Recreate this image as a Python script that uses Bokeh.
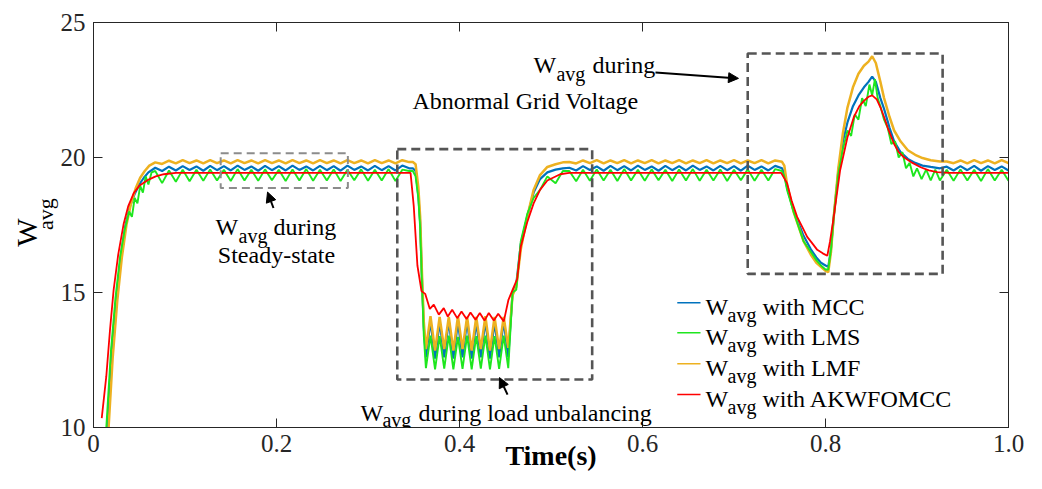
import numpy as np
from bokeh.plotting import figure
from bokeh.models import Range1d, LinearAxis, FixedTicker, Label, Arrow, NormalHead
from bokeh.embed import file_html
from bokeh.resources import INLINE

FONT = "Liberation Serif"

# ---------------- data ----------------
x_ticks = [0, 0.2, 0.4, 0.6, 0.8, 1.0]
x_tick_labels = ["0", "0.2", "0.4", "0.6", "0.8", "1.0"]
y_ticks = [10, 15, 20, 25]

# sampling times of the steady-state ripple segments
t_ss1 = list(np.round(0.0675 + 0.0075 * np.arange(38), 4))
t_ss2 = list(np.round(0.52 + 0.0075 * np.arange(32), 4))
t_ss3 = list(np.round(0.9325 + 0.0075 * np.arange(10), 4))
# sampling times of the load-unbalancing oscillation (troughs / peaks)
t_osc = list(np.round(0.3633 + 0.005 * np.arange(19), 4))

# initial rise
mcc_rise_t = [0.015, 0.02, 0.025, 0.03, 0.035, 0.04, 0.045, 0.05, 0.055, 0.06]
mcc_rise = [10.0, 12.9, 14.8, 16.4, 17.5, 18.2, 18.65, 19.0, 19.25, 19.45]
lmf_rise_t = [0.0165, 0.021, 0.026, 0.031, 0.036, 0.041, 0.046, 0.051, 0.056, 0.061]
lmf_rise = [10.0, 12.6, 14.7, 16.3, 17.5, 18.3, 18.85, 19.25, 19.5, 19.7]
lms_rise_t = [0.014, 0.019, 0.024, 0.029, 0.034, 0.039, 0.042, 0.045, 0.048, 0.051, 0.054, 0.057, 0.06, 0.0635]
lms_rise = [10.0, 12.8, 14.8, 16.3, 17.3, 18.0, 17.8, 18.5, 18.3, 18.95, 18.7, 19.3, 19.0, 19.45]
akw_rise_t = [0.009, 0.014, 0.018, 0.022, 0.027, 0.033, 0.038, 0.044, 0.05, 0.059, 0.068, 0.077, 0.09]
akw_rise = [10.35, 11.9, 13.6, 15.1, 16.4, 17.55, 18.2, 18.68, 18.95, 19.16, 19.3, 19.38, 19.43]

# steady state 1 (0.0675 - 0.345)
mcc_ss1 = [19.62, 19.50, 19.66, 19.52, 19.68, 19.54, 19.67, 19.51, 19.69, 19.53,
           19.68, 19.52, 19.70, 19.54, 19.67, 19.51, 19.69, 19.53, 19.68, 19.52,
           19.70, 19.54, 19.67, 19.52, 19.69, 19.53, 19.68, 19.51, 19.70, 19.54,
           19.67, 19.52, 19.69, 19.53, 19.68, 19.52, 19.70, 19.60]
lms_ss1 = [19.50, 19.05, 19.52, 19.10, 19.55, 19.12, 19.55, 19.14, 19.56, 19.15,
           19.55, 19.13, 19.57, 19.15, 19.55, 19.14, 19.56, 19.16, 19.55, 19.13,
           19.56, 19.15, 19.57, 19.14, 19.55, 19.15, 19.56, 19.13, 19.55, 19.16,
           19.56, 19.14, 19.55, 19.15, 19.57, 19.13, 19.55, 19.50]
lmf_ss1 = [19.82, 19.76, 19.88, 19.78, 19.90, 19.79, 19.89, 19.78, 19.90, 19.79,
           19.89, 19.78, 19.90, 19.79, 19.89, 19.78, 19.90, 19.79, 19.89, 19.78,
           19.90, 19.79, 19.89, 19.78, 19.90, 19.79, 19.89, 19.78, 19.90, 19.79,
           19.89, 19.78, 19.90, 19.79, 19.89, 19.78, 19.90, 19.83]

# load unbalancing
fall_t = [0.349, 0.352, 0.355, 0.357, 0.359, 0.361]
mcc_fall = [19.6, 19.5, 18.6, 17.6, 15.5, 13.7]
lmf_fall = [19.83, 19.75, 18.9, 17.8, 15.7, 13.9]
lms_fall = [19.5, 19.3, 18.5, 17.4, 15.3, 13.4]
mcc_osc = [12.6, 13.95, 12.55, 13.9, 12.6, 13.95, 12.55, 13.9, 12.6, 13.95,
           12.55, 13.9, 12.6, 13.95, 12.55, 13.9, 12.6, 13.95, 12.6]
lmf_osc = [12.9, 14.12, 12.85, 14.1, 12.9, 14.1, 12.85, 14.12, 12.9, 14.1,
           12.85, 14.1, 12.9, 14.12, 12.85, 14.1, 12.9, 14.1, 12.95]
lms_osc = [12.2, 13.4, 12.15, 13.38, 12.18, 13.4, 12.15, 13.36, 12.17, 13.4,
           12.15, 13.38, 12.18, 13.4, 12.15, 13.38, 12.17, 13.4, 12.2]
rec_t = [0.458, 0.462, 0.467, 0.474, 0.481, 0.488, 0.496, 0.505, 0.513]
mcc_rec = [15.0, 15.3, 16.8, 17.8, 18.7, 19.2, 19.45, 19.55, 19.6]
lmf_rec = [14.9, 15.2, 16.6, 17.8, 18.8, 19.35, 19.65, 19.75, 19.82]
lms_rec = [15.0, 15.1, 16.9, 17.9, 18.5, 18.8, 19.3, 19.05, 19.5]
akw_unb_t = [0.3465, 0.350, 0.354, 0.3585, 0.3625, 0.3676, 0.3719, 0.3774, 0.3828, 0.3872,
             0.392, 0.3975, 0.4022, 0.4077, 0.412, 0.4175, 0.4222, 0.4273, 0.432, 0.4375,
             0.4423, 0.4484, 0.4535, 0.458, 0.463, 0.467, 0.474, 0.481, 0.488, 0.496,
             0.51, 0.52]
akw_unb = [19.43, 18.2, 16.0, 15.05, 14.95, 14.39, 14.55, 14.18, 14.42, 14.11,
           14.36, 14.05, 14.3, 14.02, 14.26, 13.99, 14.24, 13.96, 14.24, 13.96,
           14.21, 13.93, 14.73, 15.1, 15.5, 16.7, 17.6, 18.3, 18.8, 19.15,
           19.38, 19.43]

# steady state 2 (0.52 - 0.7525)
mcc_ss2 = [19.62, 19.52, 19.68, 19.54, 19.67, 19.51, 19.69, 19.53, 19.68, 19.52,
           19.70, 19.54, 19.67, 19.51, 19.69, 19.53, 19.68, 19.52, 19.70, 19.54,
           19.67, 19.52, 19.69, 19.53, 19.68, 19.51, 19.70, 19.54, 19.67, 19.52,
           19.69, 19.60]
lms_ss2 = [19.50, 19.12, 19.55, 19.14, 19.56, 19.15, 19.55, 19.13, 19.57, 19.15,
           19.55, 19.14, 19.56, 19.16, 19.55, 19.13, 19.56, 19.15, 19.57, 19.14,
           19.55, 19.15, 19.56, 19.13, 19.55, 19.16, 19.56, 19.14, 19.55, 19.15,
           19.57, 19.50]
lmf_ss2 = [19.83, 19.78, 19.89, 19.79, 19.90, 19.78, 19.89, 19.79, 19.90, 19.78,
           19.89, 19.79, 19.90, 19.78, 19.89, 19.79, 19.90, 19.78, 19.89, 19.79,
           19.90, 19.78, 19.89, 19.79, 19.90, 19.78, 19.89, 19.79, 19.90, 19.78,
           19.89, 19.84]

# abnormal grid voltage
ab_t = [0.755, 0.758, 0.765, 0.776, 0.784, 0.79, 0.795, 0.8, 0.803, 0.806,
        0.809, 0.814, 0.819, 0.824, 0.83, 0.836, 0.842, 0.847, 0.851, 0.855,
        0.86, 0.864, 0.87, 0.875, 0.882, 0.89, 0.898, 0.906, 0.915, 0.925]
mcc_ab = [19.4, 18.9, 18.05, 17.1, 16.6, 16.3, 16.1, 16.0, 15.95, 16.6,
          17.8, 19.5, 20.6, 21.3, 21.9, 22.3, 22.6, 22.8, 23.0, 22.8,
          22.2, 21.8, 21.1, 20.6, 20.2, 19.95, 19.8, 19.7, 19.65, 19.6]
lmf_ab = [19.7, 19.0, 18.0, 16.9, 16.4, 16.1, 15.95, 15.8, 15.75, 16.5,
          17.8, 19.6, 20.9, 21.85, 22.6, 23.1, 23.4, 23.55, 23.75, 23.5,
          22.8, 22.2, 21.5, 21.0, 20.6, 20.27, 20.1, 19.98, 19.9, 19.85]
lms_ab_t = [0.755, 0.758, 0.765, 0.776, 0.784, 0.79, 0.795, 0.8, 0.803, 0.806,
            0.809, 0.814, 0.819, 0.824, 0.828, 0.832, 0.836, 0.84, 0.844, 0.848,
            0.851, 0.854, 0.857, 0.86, 0.864, 0.868, 0.872, 0.876, 0.88, 0.884,
            0.888, 0.892, 0.896, 0.9, 0.905, 0.91, 0.915, 0.92, 0.925]
lms_ab = [19.3, 18.8, 18.0, 16.9, 16.5, 16.2, 16.0, 15.85, 15.85, 16.6,
          17.8, 19.4, 20.3, 21.0, 20.8, 21.6, 21.4, 22.2, 21.9, 22.7,
          22.3, 22.9, 22.2, 21.9, 21.4, 21.1, 20.5, 20.6, 20.0, 20.2,
          19.6, 19.8, 19.3, 19.6, 19.2, 19.55, 19.15, 19.55, 19.15]
akw_ab_t = [0.7515, 0.758, 0.763, 0.769, 0.775, 0.78, 0.786, 0.791, 0.797, 0.802,
            0.805, 0.809, 0.816, 0.824, 0.831, 0.837, 0.842, 0.847, 0.851, 0.856,
            0.86, 0.864, 0.868, 0.875, 0.88, 0.886, 0.895, 0.904, 0.913, 0.922,
            0.935, 1.0]
akw_ab = [19.43, 19.05, 18.4, 17.8, 17.4, 17.06, 16.8, 16.58, 16.45, 16.36,
          16.9, 17.8, 19.53, 20.75, 21.5, 21.9, 22.1, 22.25, 22.3, 22.15,
          21.86, 21.5, 21.1, 20.5, 20.2, 20.0, 19.8, 19.64, 19.52, 19.46,
          19.43, 19.43]

# steady state 3 (0.9325 - 1.0)
mcc_ss3 = [19.66, 19.52, 19.68, 19.53, 19.69, 19.51, 19.68, 19.54, 19.67, 19.52]
lms_ss3 = [19.55, 19.14, 19.56, 19.15, 19.55, 19.13, 19.57, 19.15, 19.55, 19.14]
lmf_ss3 = [19.85, 19.79, 19.89, 19.78, 19.90, 19.79, 19.89, 19.78, 19.90, 19.79]

# dashed annotation boxes: left, right, bottom, top
box_left = [0.332, 0.715]
box_right = [0.545, 0.928]
box_bottom = [11.78, 15.69]
box_top = [20.31, 23.85]
ss_box = [0.139, 0.278, 18.87, 20.16]

series_names = ["MCC", "LMS", "LMF", "AKWFOMCC"]
series_colors = ["#0072BD", "#1EE61E", "#EDB120", "#FF0000"]

# ---------------- assemble series ----------------
mcc_t = mcc_rise_t + t_ss1 + fall_t + t_osc + rec_t + t_ss2 + ab_t + t_ss3
mcc_v = mcc_rise + mcc_ss1 + mcc_fall + mcc_osc + mcc_rec + mcc_ss2 + mcc_ab + mcc_ss3
lms_t = lms_rise_t + t_ss1 + fall_t + t_osc + rec_t + t_ss2 + lms_ab_t + t_ss3
lms_v = lms_rise + lms_ss1 + lms_fall + lms_osc + lms_rec + lms_ss2 + lms_ab + lms_ss3
lmf_t = lmf_rise_t + t_ss1 + fall_t + t_osc + rec_t + t_ss2 + ab_t + t_ss3
lmf_v = lmf_rise + lmf_ss1 + lmf_fall + lmf_osc + lmf_rec + lmf_ss2 + lmf_ab + lmf_ss3
akw_t = akw_rise_t + akw_unb_t + akw_ab_t
akw_v = akw_rise + akw_unb + akw_ab

# ---------------- figure ----------------
p = figure(width=1026, height=473, output_backend="svg", toolbar_location=None,
           x_range=Range1d(0, 1), y_range=Range1d(10, 25),
           min_border_left=93, min_border_right=18, min_border_top=22,
           min_border_bottom=45)
p.grid.visible = False
p.outline_line_color = "#262626"
p.background_fill_color = "white"
p.border_fill_color = "white"

AX = "#262626"
NB = "\u00a0"


def style_axis(ax, show_labels=True):
    ax.axis_line_color = AX
    ax.axis_line_width = 1
    ax.major_tick_line_color = AX
    ax.major_tick_in = 9
    ax.major_tick_out = 0
    ax.minor_tick_line_color = None
    ax.major_label_text_font = FONT
    ax.major_label_text_color = AX
    ax.axis_label_text_font = FONT
    ax.axis_label_text_color = "black"
    ax.axis_label_text_font_style = "normal"
    if show_labels:
        ax.major_label_text_font_size = "25px"
    else:
        ax.major_label_text_font_size = "1px"
        ax.major_label_text_color = None
        ax.major_label_standoff = 0


xax = p.xaxis[0]
xax.ticker = FixedTicker(ticks=x_ticks)
xax.major_label_overrides = {t: s for t, s in zip(x_ticks, x_tick_labels)}
style_axis(xax)
xax.major_label_standoff = 7
xax.axis_label = "Time(s)"
xax.axis_label_text_font_size = "28px"
xax.axis_label_text_font_style = "bold"
xax.axis_label_standoff = -15

yax = p.yaxis[0]
yax.ticker = FixedTicker(ticks=y_ticks)
style_axis(yax)
yax.major_label_standoff = 8
yax.axis_label = NB * 4 + "avg"
yax.axis_label_text_font_size = "22px"
yax.axis_label_standoff = 0

# outer left axis only carries the big "W" of the y title
yax2 = LinearAxis(ticker=FixedTicker(ticks=y_ticks))
style_axis(yax2, False)
yax2.axis_line_color = None
yax2.major_tick_line_color = None
yax2.major_tick_in = 0
yax2.axis_label = "W" + NB * 2
yax2.axis_label_text_font_size = "30px"
yax2.axis_label_standoff = -13
p.add_layout(yax2, "left")

top = LinearAxis(ticker=FixedTicker(ticks=x_ticks))
style_axis(top, False)
p.add_layout(top, "above")
right = LinearAxis(ticker=FixedTicker(ticks=y_ticks))
style_axis(right, False)
p.add_layout(right, "right")

# series
p.line(mcc_t, mcc_v, line_color=series_colors[0], line_width=2.2)
p.line(lmf_t, lmf_v, line_color=series_colors[2], line_width=2.5)
p.line(lms_t, lms_v, line_color=series_colors[1], line_width=1.9)
p.line(akw_t, akw_v, line_color=series_colors[3], line_width=1.8)

# boxes
p.quad(left=box_left, right=box_right, bottom=box_bottom, top=box_top,
       fill_alpha=0, line_color="#555555", line_width=2.6, line_dash="9 5")
p.quad(left=[ss_box[0]], right=[ss_box[1]], bottom=[ss_box[2]], top=[ss_box[3]],
       fill_alpha=0, line_color="#8c8c8c", line_width=2, line_dash="8 5")


def lab(x, y, text, size, align="left", baseline="alphabetic"):
    p.add_layout(Label(x=x, y=y, text=text, text_font=FONT, text_font_size=size,
                       text_align=align, text_baseline=baseline,
                       text_color="black"))


# annotations
lab(0.1333, 17.43, "W", "24px")
lab(0.1585, 17.09, "avg", "20px")
lab(0.1967, 17.43, "during", "24px")
lab(0.2, 16.39, "Steady-state", "24px", align="center")

lab(0.2918, 10.55, "W", "24px")
lab(0.3158, 10.26, "avg", "20px")
lab(0.3552, 10.55, "during load unbalancing", "24px")

lab(0.4809, 23.41, "W", "24px")
lab(0.506, 23.08, "avg", "20px")
lab(0.5454, 23.41, "during", "24px")
lab(0.3486, 22.08, "Abnormal Grid Voltage", "24px")

for xs, ys, xe, ye in [(0.1967, 18.13, 0.1902, 18.72),
                       (0.4525, 11.22, 0.4437, 11.85),
                       (0.6142, 23.15, 0.7049, 22.93)]:
    p.add_layout(Arrow(end=NormalHead(size=10, fill_color="black", line_color="black"),
                       x_start=xs, y_start=ys, x_end=xe, y_end=ye,
                       line_color="black", line_width=2))

# legend (drawn manually for subscripts)
leg_line_y = [14.62, 13.51, 12.365, 11.22]
leg_text_y = [14.47, 13.36, 12.22, 11.07]
for name, col, ly, ty in zip(series_names, series_colors, leg_line_y, leg_text_y):
    p.line([0.638, 0.6634], [ly, ly], line_color=col, line_width=1.5)
    lab(0.6689, ty, "W", "24px")
    lab(0.6929, ty - 0.30, "avg", "20px")
    lab(0.7311, ty, "with " + name, "24px")

open("out.html", "w").write(file_html(p, INLINE))
